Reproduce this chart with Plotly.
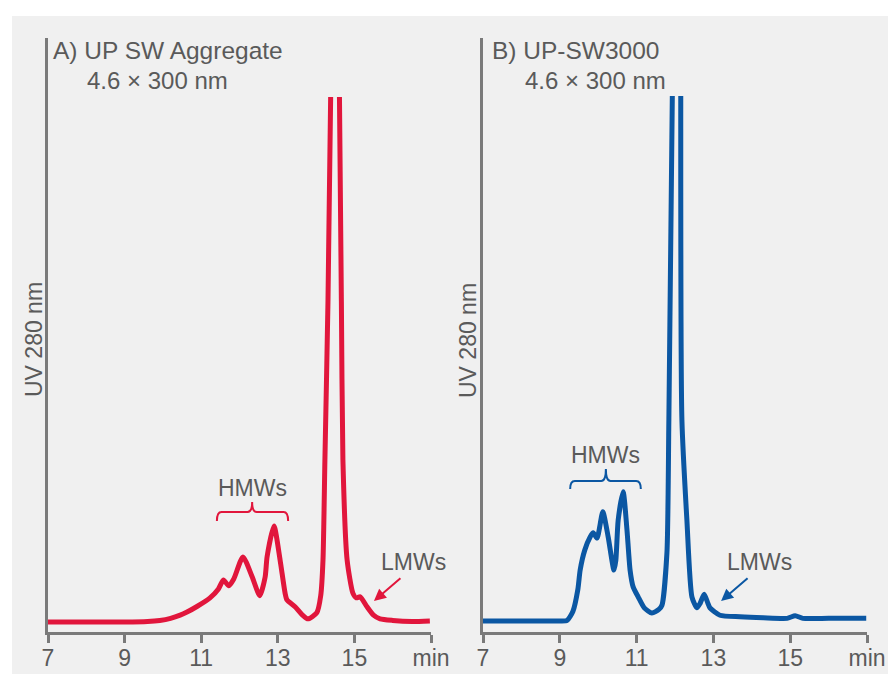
import plotly.graph_objects as go

# ---------------- data ----------------
# Panel A: UP SW Aggregate (red); None marks the clipped main-peak top
time_a = [7.0, 8.0, 9.0, 9.6, 9.92, 10.2, 10.45, 10.63, 10.9, 11.23, 11.45, 11.58,
          11.72, 11.85, 12.09, 12.33, 12.53, 12.67, 12.72, 12.9, 13.06, 13.19, 13.24,
          13.45, 13.62, 13.79, 14.02, 14.12, 14.18, 14.23, 14.31, 14.38,
          None,
          14.61, 14.66, 14.70, 14.81, 14.96, 15.05, 15.15, 15.33, 15.5, 15.67, 16.0,
          16.5, 16.97]
uv_a = [0.0, 0.0, 0.0, 0.1, 0.3, 0.7, 1.3, 1.9, 3.0, 4.6, 6.3, 8.0,
        6.9, 8.2, 12.4, 8.6, 5.0, 8.6, 12.4, 18.3, 11.8, 5.5, 4.2,
        2.9, 1.5, 0.6, 1.8, 5.0, 11.8, 30.9, 61.0, 100.0,
        None,
        100.0, 61.0, 30.9, 11.8, 5.5, 4.6, 4.8, 2.9, 1.3, 0.6, 0.3,
        0.1, 0.2]

# Panel B: UP-SW3000 (blue)
time_b = [7.0, 8.0, 9.0, 9.19, 9.34, 9.47, 9.53, 9.65, 9.79, 9.87, 9.97, 10.12,
          10.26, 10.41, 10.46, 10.52, 10.65, 10.75, 10.83, 10.91, 11.04, 11.2,
          11.40, 11.58, 11.66, 11.79, 11.84, 11.93,
          None,
          12.15, 12.18, 12.31, 12.44, 12.57, 12.65, 12.76, 12.85, 12.91, 13.17,
          13.69, 14.3, 14.92, 15.13, 15.33, 16.0, 16.98]
uv_b = [0.0, 0.0, 0.0, 0.1, 1.8, 6.0, 9.7, 13.5, 16.0, 16.8, 15.8, 20.8,
        16.0, 9.7, 11.6, 19.2, 24.6, 17.3, 9.7, 6.5, 4.6, 2.5,
        1.5, 2.2, 3.0, 13.0, 38.3, 100.0,
        None,
        100.0, 38.3, 19.2, 4.6, 2.5, 3.3, 5.1, 3.5, 2.5, 1.1,
        0.8, 0.6, 0.5, 1.0, 0.5, 0.5, 0.5]

tick_vals = [7, 9, 11, 13, 15, 17]
tick_text = ["7", "9", "11", "13", "15", "min"]

# ---------------- styling ----------------
W, H = 888, 674
RED = "#e1163c"
BLUE = "#0b57a3"
GRAY_BG = "#f0f0f0"
AXIS = "#7a7a7a"
TXT = "#5a5a5a"
FONT = "Liberation Sans"


def px_x(p):
    return p / W


def px_y(p):
    return 1 - p / H


fig = go.Figure()
fig.add_trace(go.Scatter(x=time_a, y=uv_a, mode="lines", xaxis="x", yaxis="y",
                         line=dict(color=RED, width=5, shape="spline", smoothing=0.6),
                         connectgaps=False, hoverinfo="skip", showlegend=False))
fig.add_trace(go.Scatter(x=time_b, y=uv_b, mode="lines", xaxis="x2", yaxis="y2",
                         line=dict(color=BLUE, width=5, shape="spline", smoothing=0.6),
                         connectgaps=False, hoverinfo="skip", showlegend=False))

y_dom = [px_y(632), px_y(38)]
xcommon = dict(range=[7, 17], showline=True, linecolor=AXIS, linewidth=3,
               ticks="outside", ticklen=8, tickwidth=3, tickcolor=AXIS,
               tickvals=tick_vals, ticktext=tick_text, showgrid=False, zeroline=False,
               tickfont=dict(family=FONT, size=23, color=TXT), fixedrange=True,
               automargin=False, ticklabelstandoff=-5)
ycommon = dict(showline=True, linecolor=AXIS, linewidth=3, ticks="",
               showticklabels=False, showgrid=False, zeroline=False, fixedrange=True,
               domain=y_dom, automargin=False)

fig.update_layout(
    width=W, height=H, autosize=False,
    margin=dict(l=0, r=0, t=0, b=0, pad=0),
    paper_bgcolor=GRAY_BG, plot_bgcolor=GRAY_BG,
    xaxis=dict(domain=[px_x(48), px_x(431)], anchor="y", **xcommon),
    yaxis=dict(range=[-10 / 5.25, (622 - 38) / 5.25], anchor="x", **ycommon),
    xaxis2=dict(domain=[px_x(483), px_x(867)], anchor="y2", **xcommon),
    yaxis2=dict(range=[-11 / 5.25, (621 - 38) / 5.25], anchor="x2", **ycommon),
    font=dict(family=FONT, color=TXT),
)

shapes = [
    # white strips around the grey panel
    dict(type="rect", xref="paper", yref="paper", x0=0, x1=1, y0=px_y(16), y1=1,
         fillcolor="white", line=dict(width=0), layer="below"),
    dict(type="rect", xref="paper", yref="paper", x0=0, x1=px_x(12), y0=0, y1=1,
         fillcolor="white", line=dict(width=0), layer="below"),
]


def brace(xl, xr, xc, yh, ye, yt, xref, yref, color):
    d = 0.12
    path = (f"M {xl},{ye} Q {xl},{yh} {xl + d},{yh} L {xc - d},{yh} "
            f"Q {xc},{yh} {xc},{yt} Q {xc},{yh} {xc + d},{yh} "
            f"L {xr - d},{yh} Q {xr},{yh} {xr},{ye}")
    return dict(type="path", path=path, xref=xref, yref=yref,
                line=dict(color=color, width=2))


shapes.append(brace(11.41, 13.27, 12.33, 20.95, 19.24, 22.86, "x", "y", RED))
shapes.append(brace(9.27, 11.11, 10.20, 26.67, 25.14, 28.95, "x2", "y2", BLUE))
fig.update_layout(shapes=shapes)

ann = []


def text(x, y, s, xref="paper", yref="paper", xanchor="left", size=24, angle=0):
    ann.append(dict(x=x, y=y, xref=xref, yref=yref, text=s, showarrow=False,
                    xanchor=xanchor, yanchor="middle", textangle=angle,
                    font=dict(family=FONT, size=size, color=TXT)))


text(px_x(51), px_y(50), "A) UP SW Aggregate", size=24.5)
text(px_x(85), px_y(80), "4.6 × 300 nm")
text(px_x(490), px_y(50), "B) UP-SW3000", size=24.5)
text(px_x(523), px_y(80), "4.6 × 300 nm")
text(px_x(34), px_y(340), "UV 280 nm", xanchor="center", size=23, angle=-90)
text(px_x(468), px_y(340), "UV 280 nm", xanchor="center", size=23, angle=-90)
text(12.35, 25.5, "HMWs", "x", "y", "center", 23)
text(10.20, 31.6, "HMWs", "x2", "y2", "center", 23)
text(16.53, 11.4, "LMWs", "x", "y", "center", 23)
text(14.21, 11.2, "LMWs", "x2", "y2", "center", 23)

for xr, yr, tx, ty, col in [("x", "y", 15.51, 4.0, RED), ("x2", "y2", 13.20, 3.8, BLUE)]:
    ann.append(dict(x=tx, y=ty, xref=xr, yref=yr, text="", showarrow=True,
                    ax=28, ay=-24, arrowhead=2, arrowsize=1.2, arrowwidth=2,
                    arrowcolor=col))

fig.update_layout(annotations=ann)
fig.write_html("out.html")
